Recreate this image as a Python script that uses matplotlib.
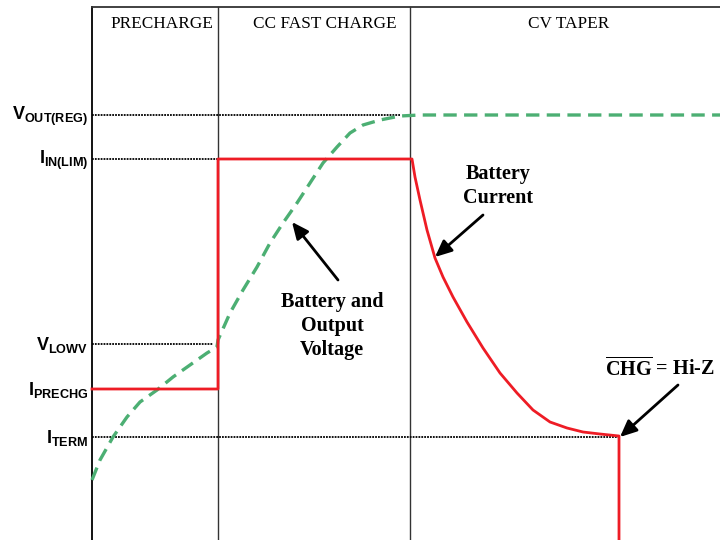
import matplotlib
matplotlib.use("Agg")
import matplotlib.pyplot as plt

plt.rcParams['font.family'] = ['Liberation Serif', 'DejaVu Serif']
plt.rcParams['mathtext.fontset'] = 'custom'
plt.rcParams['mathtext.rm'] = 'Liberation Serif:bold'
plt.rcParams['mathtext.sf'] = 'Liberation Sans:bold'
plt.rcParams['mathtext.it'] = 'Liberation Sans:bold'
plt.rcParams['mathtext.bf'] = 'Liberation Sans:bold'

# phase boundaries (time axis, px-like units)
t_start = 92
t_cc = 218
t_cv = 410
t_end = 720

phase_names = ["PRECHARGE", "CC FAST CHARGE", "CV TAPER"]
phase_label_x = [162, 325, 569]

# reference levels
level_names = [r"$\mathsf{V_{OUT(REG)}}$", r"$\mathsf{I_{IN(LIM)}}$",
               r"$\mathsf{V_{LOWV}}$", r"$\mathsf{I_{PRECHG}}$",
               r"$\mathsf{I_{TERM}}$"]
level_values = [425, 381, 196, 151, 103]
level_dot_end = [400, 218, 213, 92, 619]

# battery / output voltage (green dashed)
v_t = [92, 100, 113, 127, 140, 157, 173, 190, 207, 217, 218, 230, 243, 257, 270, 283,
       297, 310, 323, 337, 350, 363, 380, 400, 420, 720]
v_level = [60, 80, 103, 123, 138, 150, 163, 175, 187, 193, 200, 227, 250, 273, 297, 317,
           337, 357, 377, 393, 407, 415, 420, 424, 425, 425]

# battery current (red)
i_t = [92, 218, 218, 410, 412, 415, 420, 427, 435, 443, 453, 467, 483, 500, 517, 533,
       550, 567, 583, 600, 619, 619]
i_level = [151, 151, 381, 381, 381, 363, 340, 310, 282, 263, 243, 218, 192, 167, 147, 130,
           118, 112, 108, 106, 104, 0]

fig = plt.figure(figsize=(7.2, 5.4), dpi=100)
ax = fig.add_axes([0, 0, 1, 1])
ax.set_xlim(0, 720)
ax.set_ylim(0, 540)
ax.axis("off")

# frame
ax.plot([t_start, t_start], [0, 533], color="black", lw=1.3)
ax.plot([t_start, t_end], [533, 533], color="#333333", lw=1.3)
for x in [t_cc, t_cv]:
    ax.plot([x, x], [0, 533], color="#333333", lw=1.0)

for name, x in zip(phase_names, phase_label_x):
    ax.text(x, 516, name, ha="center", va="center", fontsize=12.4)

# dotted reference lines and labels
for name, lvl, xe in zip(level_names, level_values, level_dot_end):
    if xe > t_start:
        ax.plot([t_start, xe], [lvl, lvl], color="black", lw=1.3, ls=(0, (1, 0.6)))
    ax.text(88, lvl - 1, name, ha="right", va="center", fontsize=13)

ax.plot(v_t, v_level, color="#4caf73", lw=2.4, ls=(0, (4, 2.2)))
ax.plot(i_t, i_level, color="#ee1c25", lw=2.0)

arrow = dict(arrowstyle="-|>,head_length=1.0,head_width=0.45", color="black", lw=2,
             shrinkA=0, shrinkB=0)
ax.annotate("", xy=(435, 283), xytext=(483, 325), arrowprops=arrow)
ax.annotate("", xy=(292, 318), xytext=(338, 260), arrowprops=arrow)
ax.annotate("", xy=(620, 103), xytext=(678, 155), arrowprops=arrow)

ax.text(498, 354, "Battery\nCurrent", ha="center", va="center", fontsize=14.5,
        fontweight="bold", linespacing=1.28)
ax.text(332, 214, "Battery and\nOutput\nVoltage", ha="center", va="center", fontsize=14.5,
        fontweight="bold", linespacing=1.25)
ax.text(660, 171, r"$\overline{\mathrm{CHG}}$ = Hi-Z", ha="center", va="center",
        fontsize=14.5, fontweight="bold")

fig.savefig("out.png", dpi=100)
